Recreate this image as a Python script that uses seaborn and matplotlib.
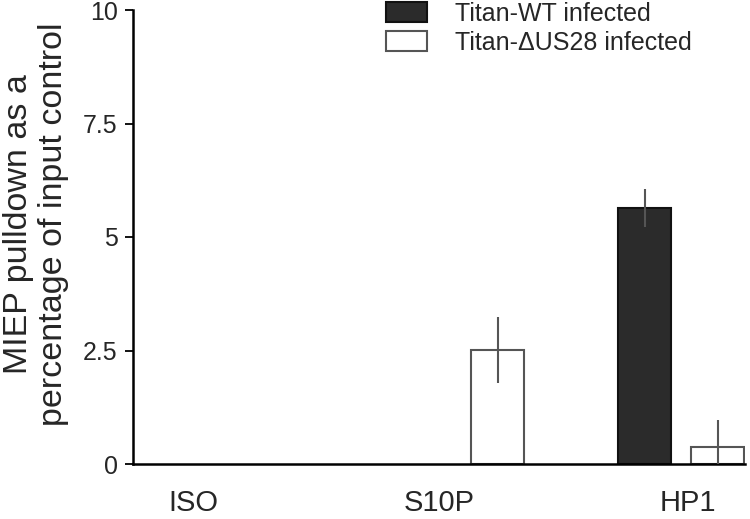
import matplotlib
matplotlib.use("Agg")
import matplotlib.pyplot as plt
import matplotlib.patches as mpatches
import seaborn as sns
import pandas as pd

categories = ["ISO", "S10P", "HP1"]
series_names = ["Titan-WT infected", "Titan-\u0394US28 infected"]
wt_values = [0.0, 0.0, 5.63]
wt_errors = [0.0, 0.0, 0.42]
dus_values = [0.0, 2.51, 0.37]
dus_errors = [0.0, 0.72, 0.60]
y_ticks = [0, 2.5, 5, 7.5, 10]
y_tick_labels = ["0", "2.5", "5", "7.5", "10"]
x_label_positions = [-0.218, 0.90, 2.03]
ylabel = "MIEP pulldown as a\npercentage of input control"

df = pd.DataFrame({
    "category": categories * 2,
    "series": [series_names[0]] * 3 + [series_names[1]] * 3,
    "value": wt_values + dus_values,
})
errors = {series_names[0]: wt_errors, series_names[1]: dus_errors}

sns.set_style("white")
plt.rcParams["font.family"] = ["Liberation Sans", "DejaVu Sans"]

fig = plt.figure(figsize=(7.5, 5.19), dpi=100)
ax = fig.add_axes([133 / 750, 55 / 519, (745 - 133) / 750, (464 - 10) / 519])

palette = {series_names[0]: "#2b2b2b", series_names[1]: "#ffffff"}
sns.barplot(data=df, x="category", y="value", hue="series", order=categories,
            hue_order=series_names, palette=palette, width=0.665, gap=0.28,
            errorbar=None, legend=False, ax=ax, saturation=1)

edge_colors = ["#111111", "#555555"]
for cont, name, ec in zip(ax.containers, series_names, edge_colors):
    xs = []
    for p in cont.patches:
        p.set_edgecolor(ec)
        p.set_linewidth(1.5 if p.get_height() > 0 else 0)
        xs.append(p.get_x() + p.get_width() / 2)
    vals = [p.get_height() for p in cont.patches]
    errs = errors[name]
    for x, v, e in zip(xs, vals, errs):
        if e > 0:
            ax.plot([x, x], [max(v - e, 0), v + e], color="#555555", lw=1.5,
                    zorder=5, solid_capstyle="butt")

ax.set_xlim(-0.49, 2.29)
ax.set_ylim(0, 10)
ax.set_yticks(y_ticks)
ax.set_yticklabels(y_tick_labels)
ax.set_xticks(x_label_positions)
ax.set_xticklabels(categories)
ax.tick_params(axis="y", direction="out", length=6, width=1.3, color="black",
               labelsize=18, pad=5, left=True)
ax.tick_params(axis="x", length=0, labelsize=21, pad=18)
ax.set_xlabel("")
ax.set_ylabel(ylabel, fontsize=24.5, linespacing=1.15)
ax.yaxis.set_label_coords(-0.105, 0.528)

for s in ["top", "right"]:
    ax.spines[s].set_visible(False)
for s in ["left", "bottom"]:
    ax.spines[s].set_color("black")
    ax.spines[s].set_linewidth(1.8)

leg_handles = [mpatches.Patch(facecolor="#2b2b2b", edgecolor="#111111", lw=1.5),
               mpatches.Patch(facecolor="#ffffff", edgecolor="#555555", lw=1.5)]
fig.legend(leg_handles, series_names, loc="upper left",
           bbox_to_anchor=(386 / 750, 1 - 2 / 519), frameon=False,
           fontsize=18, borderpad=0, handlelength=1.64, handleheight=0.84,
           handletextpad=1.12, labelspacing=0.2, borderaxespad=0)

fig.savefig("out.png", dpi=100)
